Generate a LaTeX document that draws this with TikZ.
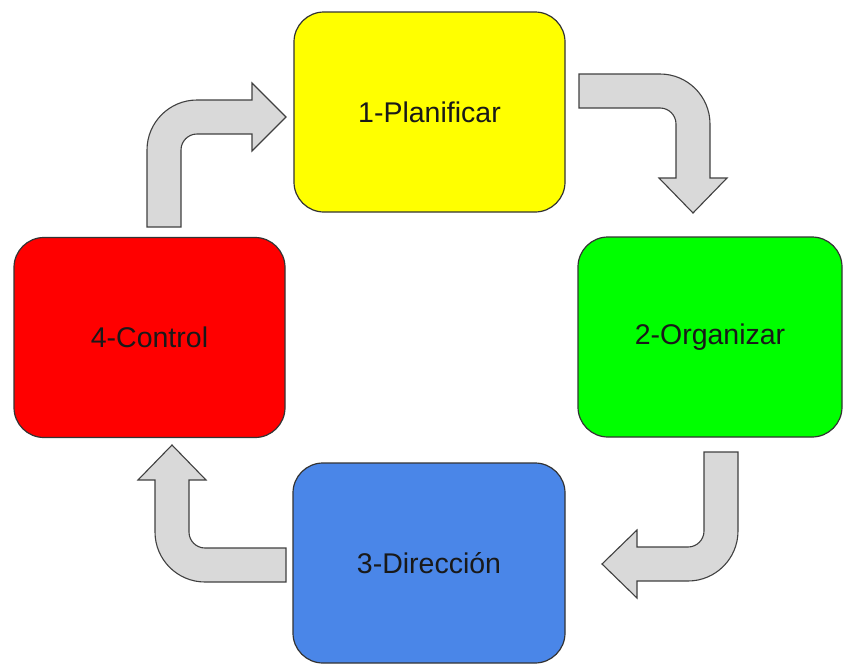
\documentclass[tikz,border=0pt]{standalone}
\usepackage{fontspec}
\setmainfont{Liberation Sans}
\begin{document}
\begin{tikzpicture}[x=1pt,y=-1pt,
  stagebox/.style={draw=black!80, line width=1.2pt, rounded corners=30pt,
    minimum height=200pt, inner sep=0pt, font=\fontsize{28.5}{34}\selectfont, text=black!90},
  bentarrow/.style={draw=black!75, line width=1.1pt, fill=gray!30, line join=miter}]
\path[use as bounding box] (0,0) rectangle (843,664);
\definecolor{bxyellow}{HTML}{FFFF00}
\definecolor{bxgreen}{HTML}{00FF00}
\definecolor{bxblue}{HTML}{4A86E8}
\definecolor{bxred}{HTML}{FF0000}

\node[stagebox, fill=bxyellow, minimum width=271pt] (plan) at (429.5,112) {1-Planificar};
\node[stagebox, fill=bxgreen, minimum width=264pt] (org) at (710,337) {2-Organizar};
\node[stagebox, fill=bxblue, minimum width=272pt] (dir) at (429,563) {3-Dirección};
\node[stagebox, fill=bxred, minimum width=271pt] (ctrl) at (149.5,337.5) {4-Control};

% arrow 4 -> 1 (up then right)
\draw[bentarrow] (147,227) -- (147,150) .. controls (147,122.4) and (169.4,100) .. (197,100)
  -- (252,100) -- (252,83) -- (286,117) -- (252,151) -- (252,134) -- (197,134)
  .. controls (188.2,134) and (181,141.2) .. (181,150) -- (181,227) -- cycle;

% arrow 1 -> 2 (right then down)
\draw[bentarrow] (579,74) -- (660,74) .. controls (687.6,74) and (710,96.4) .. (710,124)
  -- (710,178) -- (727,178) -- (693,213) -- (659,178) -- (676,178) -- (676,124)
  .. controls (676,115.2) and (668.8,108) .. (660,108) -- (579,108) -- cycle;

% arrow 2 -> 3 (down then left)
\draw[bentarrow] (704,452) -- (738,452) -- (738,531) .. controls (738,558.6) and (715.6,581) .. (688,581)
  -- (637,581) -- (637,598) -- (602,564) -- (637,530) -- (637,547) -- (688,547)
  .. controls (696.8,547) and (704,539.8) .. (704,531) -- cycle;

% arrow 3 -> 4 (left then up)
\draw[bentarrow] (286,548) -- (286,582) -- (205,582) .. controls (177.4,582) and (155,559.6) .. (155,532)
  -- (155,480) -- (138,480) -- (172,445) -- (206,480) -- (189,480) -- (189,532)
  .. controls (189,540.8) and (196.2,548) .. (205,548) -- cycle;
\end{tikzpicture}
\end{document}
